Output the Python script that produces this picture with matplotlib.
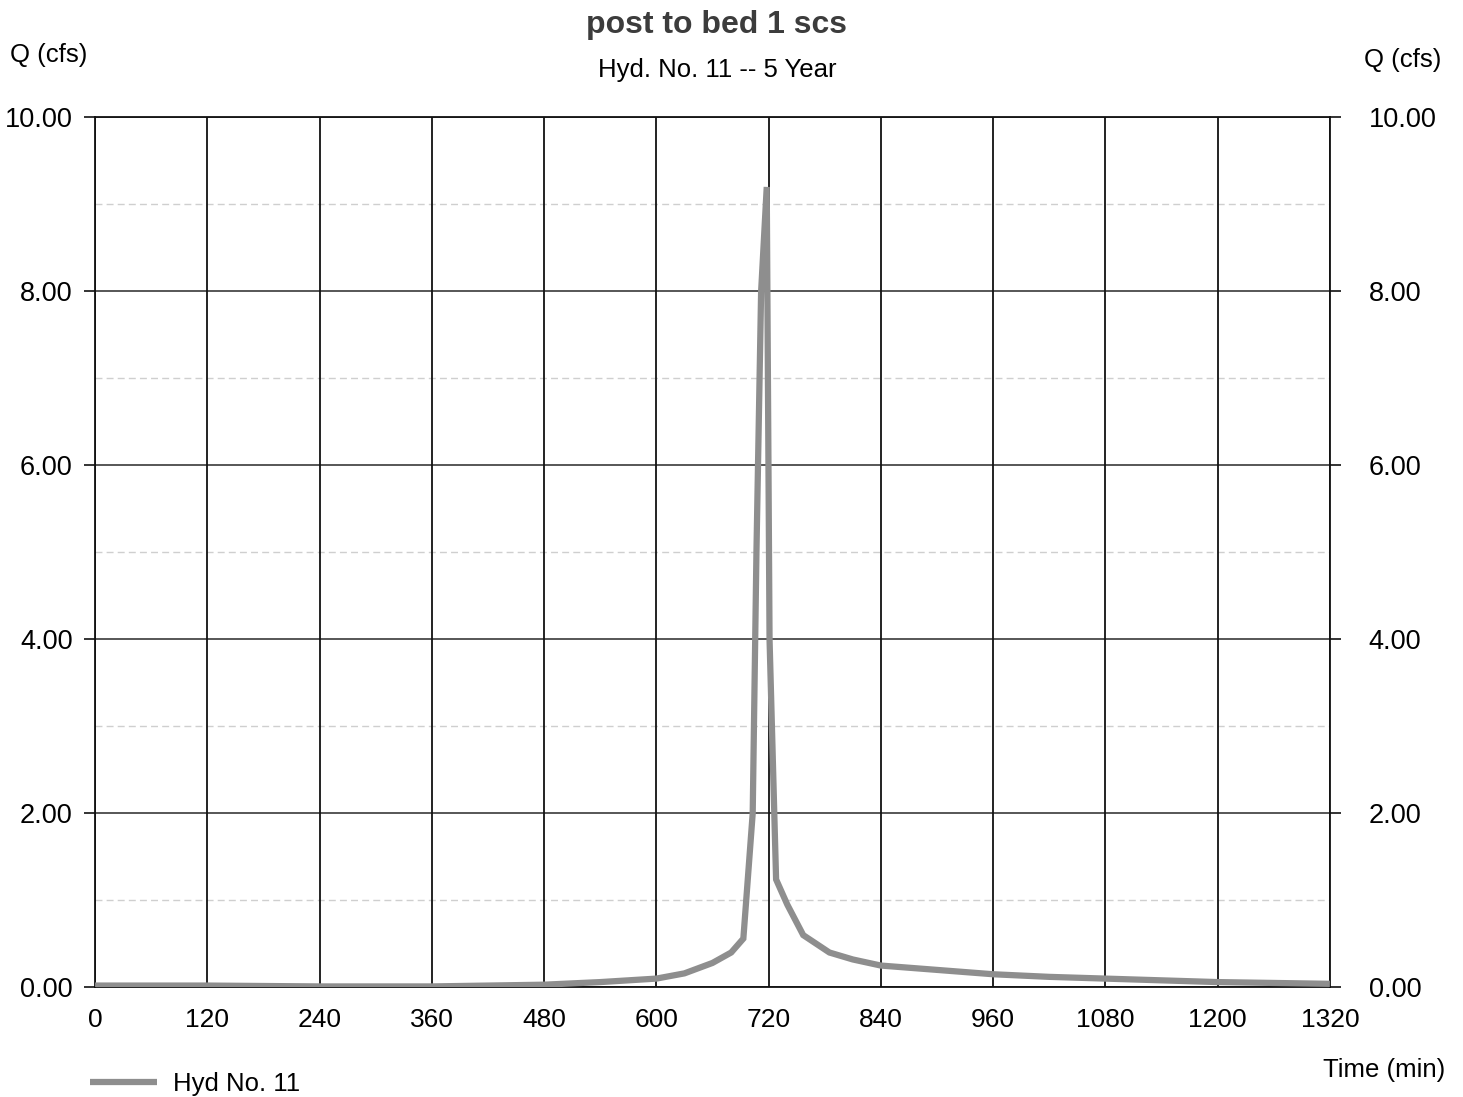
import matplotlib
matplotlib.use("Agg")
import matplotlib.pyplot as plt
import numpy as np

plt.rcParams['font.family'] = ['Liberation Sans', 'DejaVu Sans']

# Data
time_min = [0, 120, 240, 360, 480, 540, 600, 630, 660, 680, 693, 703, 707, 712, 718,
            721, 728, 740, 757, 785, 810, 840, 900, 960, 1020, 1080, 1140, 1200, 1260, 1320]
flow_cfs = [0.02, 0.02, 0.01, 0.01, 0.03, 0.06, 0.10, 0.16, 0.28, 0.40, 0.56, 2.0, 5.0, 8.0, 9.2,
            4.0, 1.24, 0.95, 0.60, 0.40, 0.32, 0.25, 0.20, 0.15, 0.12, 0.10, 0.08, 0.06, 0.05, 0.04]
x_ticks = [0, 120, 240, 360, 480, 600, 720, 840, 960, 1080, 1200, 1320]
y_major = [0, 2, 4, 6, 8, 10]
y_minor = [1, 3, 5, 7, 9]
series_name = "Hyd No. 11"

fig = plt.figure(figsize=(14.63, 10.97), dpi=100)
ax = fig.add_axes([0.065, 0.100, 0.844, 0.793])

ax.set_xlim(0, 1320)
ax.set_ylim(0, 10)

# grid
for yv in y_minor:
    ax.axhline(yv, color='#cfcfcf', lw=1.0, ls=(0, (5, 3)), zorder=1)
for yv in y_major:
    ax.axhline(yv, color='#3a3a3a', lw=1.2, zorder=1)
for xv in x_ticks:
    ax.axvline(xv, color='#111111', lw=1.3, zorder=1)

line, = ax.plot(time_min, flow_cfs, color='#8e8e8e', lw=4.5, solid_capstyle='butt',
                solid_joinstyle='miter', zorder=3, label=series_name)

for s in ax.spines.values():
    s.set_color('#111111')
    s.set_linewidth(1.3)

ax.set_xticks(x_ticks)
ax.set_xticklabels([str(v) for v in x_ticks], fontsize=19)
ax.set_yticks(y_major)
ax.set_yticklabels([f"{v:.2f}" for v in y_major], fontsize=19.5)
ax.tick_params(axis='x', length=0, pad=15)
ax.tick_params(axis='y', length=8, width=1.2, pad=8, color='#111111')

ax2 = ax.twinx()
ax2.set_ylim(0, 10)
ax2.set_yticks(y_major)
ax2.set_yticklabels([f"{v:.2f}" for v in y_major], fontsize=19.5)
ax2.tick_params(axis='y', length=8, width=1.2, pad=20, color='#111111')
for s in ax2.spines.values():
    s.set_visible(False)

fig.text(0.49, 0.977, "post to bed 1 scs", ha='center', va='center', fontsize=23,
         fontweight='bold', color='#3c3c3c')
fig.text(0.49, 0.936, "Hyd. No. 11 -- 5 Year", ha='center', va='center', fontsize=18.5)
fig.text(0.007, 0.950, "Q (cfs)", ha='left', va='center', fontsize=18.5)
fig.text(0.985, 0.945, "Q (cfs)", ha='right', va='center', fontsize=18.5)
fig.text(0.988, 0.025, "Time (min)", ha='right', va='center', fontsize=18.5)

fig.legend(handles=[line], labels=[series_name], loc='center left',
           bbox_to_anchor=(0.046, 0.012), frameon=False, fontsize=18.5,
           handlelength=2.6, handletextpad=0.6)

fig.savefig("out.png", dpi=100, facecolor='white')
